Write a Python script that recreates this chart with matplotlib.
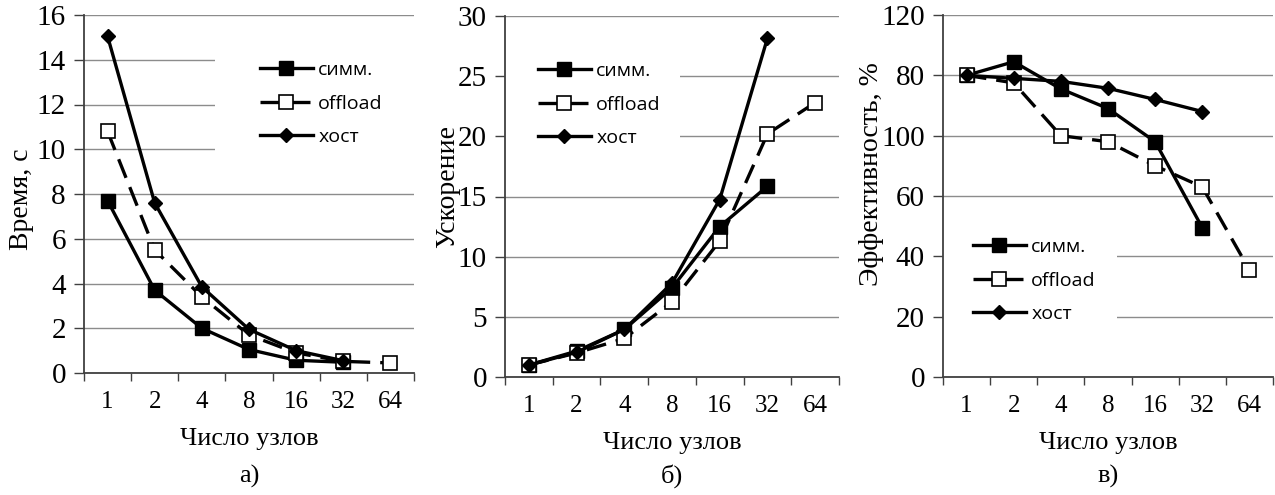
import numpy as np
import matplotlib
matplotlib.use("Agg")
import matplotlib.pyplot as plt
from matplotlib.patches import Rectangle

plt.rcParams['font.family'] = ['Liberation Serif', 'DejaVu Serif']

nodes = ['1', '2', '4', '8', '16', '32', '64']

# a) time, s
time_simm = [7.7, 3.7, 2.0, 1.05, 0.57, 0.48]
time_offload = [10.8, 5.5, 3.4, 1.7, 0.9, 0.52, 0.45]
time_host = [15.05, 7.6, 3.85, 1.95, 1.0, 0.55]

# b) speedup
speed_simm = [1.0, 2.15, 3.95, 7.4, 12.5, 15.85]
speed_offload = [1.0, 2.0, 3.2, 6.25, 11.3, 20.2, 22.8]
speed_host = [1.0, 2.05, 3.95, 7.8, 14.75, 28.15]

# c) efficiency (values in axis units, tick labels as printed in the source)
eff_simm = [100, 104.5, 95.5, 89, 78, 49.5]
eff_offload = [100, 97.5, 80, 78, 70, 63, 35.5]
eff_host = [100, 99, 98, 95.7, 92, 88]
eff_ticklabels = ['0', '20', '40', '60', '100', '80', '120']

W, H = 1275, 495
fig = plt.figure(figsize=(W / 100, H / 100), dpi=100)


def px_axes(l, r, t, b):
    return fig.add_axes([l / W, 1 - b / H, (r - l) / W, (b - t) / H])


def style(ax, ymax, ystep, ylabel, caption, ylabelx, ylabely):
    ax.set_xlim(-0.5, 6.5)
    ax.set_ylim(0, ymax)
    ax.set_yticks(np.arange(0, ymax + 0.01, ystep))
    ax.set_xticks(np.arange(-0.5, 7, 1))
    ax.set_xticklabels([])
    ax.set_xticks(np.arange(7), minor=True)
    ax.set_xticklabels(nodes, minor=True, fontsize=18)
    ax.tick_params(axis='x', which='minor', length=0, pad=13)
    ax.tick_params(axis='x', which='major', length=6, width=1, color='#404040', direction='out')
    ax.tick_params(axis='y', length=7, width=1, color='#404040', pad=6, labelsize=21)
    for s in ['top', 'right']:
        ax.spines[s].set_visible(False)
    for s in ['left', 'bottom']:
        ax.spines[s].set_color('#404040')
        ax.spines[s].set_linewidth(1.3)
    ax.set_axisbelow(True)
    ax.grid(axis='y', color='#8c8c8c', linewidth=1)
    ax.set_xlabel('Число узлов', fontsize=19, labelpad=11)
    ax.set_ylabel(ylabel, fontsize=20, va='center')
    ax.yaxis.set_label_coords(ylabelx / W, 1 - ylabely / H, transform=fig.transFigure)
    cx = ax.get_position().x0 + ax.get_position().width / 2
    fig.text(cx, 1 - 476 / H, caption, ha='center', va='center', fontsize=19)


def draw(ax, simm, offload, host):
    x = np.arange(7)
    ax.plot(x[:len(simm)], simm, color='black', lw=2.4, marker='s', ms=10,
            mfc='black', mec='black', label='симм.', zorder=3)
    ax.plot(x[:len(offload)], offload, color='black', lw=2.4, dashes=(6, 3), marker='s', ms=10,
            mfc='white', mec='black', mew=1.2, label='offload', zorder=3)
    ax.plot(x[:len(host)], host, color='black', lw=2.4, marker='D', ms=7.5,
            mfc='black', mec='black', label='хост', zorder=4)


def legend(ax, x, y, box):
    bx0, bx1, by0, by1 = box
    ax.add_patch(Rectangle((bx0 / W, 1 - by1 / H), (bx1 - bx0) / W, (by1 - by0) / H,
                           transform=fig.transFigure, facecolor='white', edgecolor='none',
                           zorder=1, clip_on=False))
    leg = ax.legend(loc='upper left', bbox_to_anchor=(x / W, 1 - y / H),
                    bbox_transform=fig.transFigure, frameon=False, borderaxespad=0,
                    borderpad=0, handlelength=2.7, handletextpad=0.3, labelspacing=0.8,
                    numpoints=1, prop={'family': ['Open Sans', 'DejaVu Sans'], 'size': 14})
    return leg


ax1 = px_axes(84, 414, 15, 373)
draw(ax1, time_simm, time_offload, time_host)
style(ax1, 16, 2, 'Время, с', 'а)', 21, 199)
legend(ax1, 260, 61, (215, 414, 40, 175))

ax2 = px_axes(505, 839, 16, 377)
draw(ax2, speed_simm, speed_offload, speed_host)
style(ax2, 30, 5, 'Ускорение', 'б)', 448, 186)
legend(ax2, 538, 62, (505, 680, 35, 175))

ax3 = px_axes(943, 1273, 15, 377)
draw(ax3, eff_simm, eff_offload, eff_host)
style(ax3, 120, 20, 'Эффективность, %', 'в)', 872, 174)
ax3.set_yticklabels(eff_ticklabels)
legend(ax3, 973, 238, (943, 1117, 215, 350))

fig.savefig('out.png', dpi=100)
